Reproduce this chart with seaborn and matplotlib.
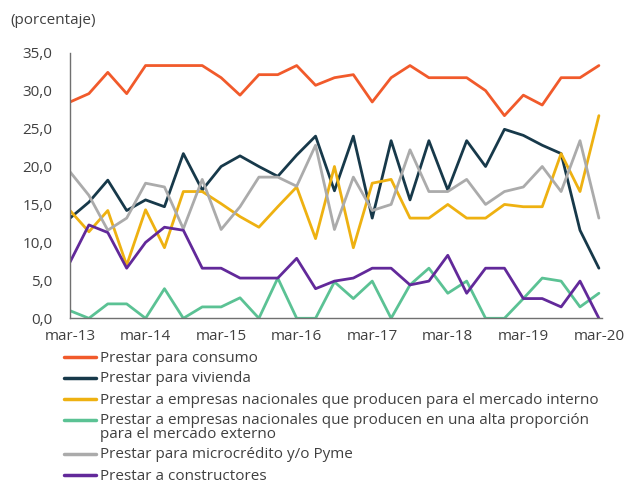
import numpy as np
import pandas as pd
import matplotlib
matplotlib.use("Agg")
import matplotlib.pyplot as plt
from matplotlib.lines import Line2D
import seaborn as sns

# quarterly periods, mar-13 .. mar-20
years = ["13", "14", "15", "16", "17", "18", "19", "20"]
months = ["mar", "jun", "sep", "dic"]
periods = [m + "-" + y for y in years for m in months][:29]

consumo = [28.5, 29.6, 32.4, 29.6, 33.3, 33.3, 33.3, 33.3, 31.7, 29.4, 32.1, 32.1, 33.3, 30.7, 31.7,
           32.1, 28.5, 31.7, 33.3, 31.7, 31.7, 31.7, 30.0, 26.7, 29.4, 28.1, 31.7, 31.7, 33.3]
vivienda = [13.2, 15.3, 18.2, 14.2, 15.6, 14.7, 21.7, 16.9, 20.0, 21.4, 20.0, 18.7, 21.5, 24.0, 16.8,
            24.0, 13.2, 23.4, 15.6, 23.4, 16.9, 23.4, 20.0, 24.9, 24.1, 22.8, 21.7, 11.6, 6.6]
interno = [14.2, 11.4, 14.2, 7.0, 14.3, 9.3, 16.7, 16.7, 15.1, 13.4, 12.0, 14.7, 17.3, 10.5, 20.0,
           9.3, 17.8, 18.3, 13.2, 13.2, 15.0, 13.2, 13.2, 15.0, 14.7, 14.7, 21.7, 16.7, 26.7]
externo = [1.0, 0.0, 1.9, 1.9, 0.0, 3.9, 0.0, 1.5, 1.5, 2.7, 0.0, 5.3, 0.0, 0.0, 4.8,
           2.6, 4.9, 0.0, 4.4, 6.6, 3.3, 4.9, 0.0, 0.0, 2.6, 5.3, 4.9, 1.5, 3.3]
pyme = [19.3, 16.2, 11.6, 13.2, 17.8, 17.3, 11.8, 18.3, 11.7, 14.7, 18.6, 18.6, 17.4, 22.8, 11.7,
        18.6, 14.2, 15.0, 22.2, 16.7, 16.7, 18.3, 15.0, 16.7, 17.3, 20.0, 16.7, 23.4, 13.2]
constructores = [7.4, 12.3, 11.3, 6.6, 10.0, 12.0, 11.6, 6.6, 6.6, 5.3, 5.3, 5.3, 7.9, 3.9, 4.9,
                 5.3, 6.6, 6.6, 4.4, 4.9, 8.3, 3.3, 6.6, 6.6, 2.6, 2.6, 1.5, 4.9, 0.0]

labels = [
    "Prestar para consumo",
    "Prestar para vivienda",
    "Prestar a empresas nacionales que producen para el mercado interno",
    "Prestar a empresas nacionales que producen en una alta proporción\npara el mercado externo",
    "Prestar para microcrédito y/o Pyme",
    "Prestar a constructores",
]
colors = ["#F15A2B", "#17394A", "#EEB111", "#5BC294", "#ABABAB", "#62299A"]
series = [consumo, vivienda, interno, externo, pyme, constructores]

df = pd.concat([
    pd.DataFrame({"idx": np.arange(len(periods)), "periodo": periods, "valor": s, "serie": lab})
    for s, lab in zip(series, labels)
])

sns.set_style("white")
plt.rcParams["font.family"] = ["Open Sans", "DejaVu Sans"]
text_col = "#404040"

W, H = 633, 483
fig = plt.figure(figsize=(W / 100, H / 100), dpi=100)
ax = fig.add_axes([0.1106, 0.341, 0.840, 0.550])

sns.lineplot(data=df, x="idx", y="valor", hue="serie", hue_order=labels,
             palette=colors, linewidth=2.0, ax=ax, legend=False)

ax.set_xlim(0, 28.15)
ax.set_ylim(0, 35)
ax.set_yticks(np.arange(0, 36, 5))
ax.set_yticklabels([f"{v:.1f}".replace(".", ",") for v in np.arange(0, 36, 5)])
tick_pos = list(range(0, 29, 4))
ax.set_xticks(tick_pos)
ax.set_xticklabels([periods[i] for i in tick_pos])
ax.set_xlabel("")
ax.set_ylabel("")

for side in ["top", "right"]:
    ax.spines[side].set_visible(False)
for side in ["left", "bottom"]:
    ax.spines[side].set_color("#707070")
    ax.spines[side].set_linewidth(1.0)
ax.tick_params(axis="both", direction="in", length=4, width=1, color="#707070",
               labelsize=11, labelcolor=text_col)
ax.tick_params(axis="y", pad=12.5)
ax.tick_params(axis="x", pad=7.5)

fig.text(0.016, 0.957, "(porcentaje)", fontsize=11, color=text_col, va="center")

# legend below the chart, handle aligned with the first text line
y_px = 357
for lab, c in zip(labels, colors):
    yf = 1 - y_px / H
    fig.add_artist(Line2D([64 / W, 96 / W], [yf, yf], color=c, linewidth=2.5,
                          transform=fig.transFigure))
    fig.text(100 / W, 1 - (y_px - 6.5) / H, lab, fontsize=11, color=text_col, va="top",
             linespacing=0.85, transform=fig.transFigure)
    y_px += 21 + 13 * lab.count("\n")

fig.savefig("out.png", dpi=100)
